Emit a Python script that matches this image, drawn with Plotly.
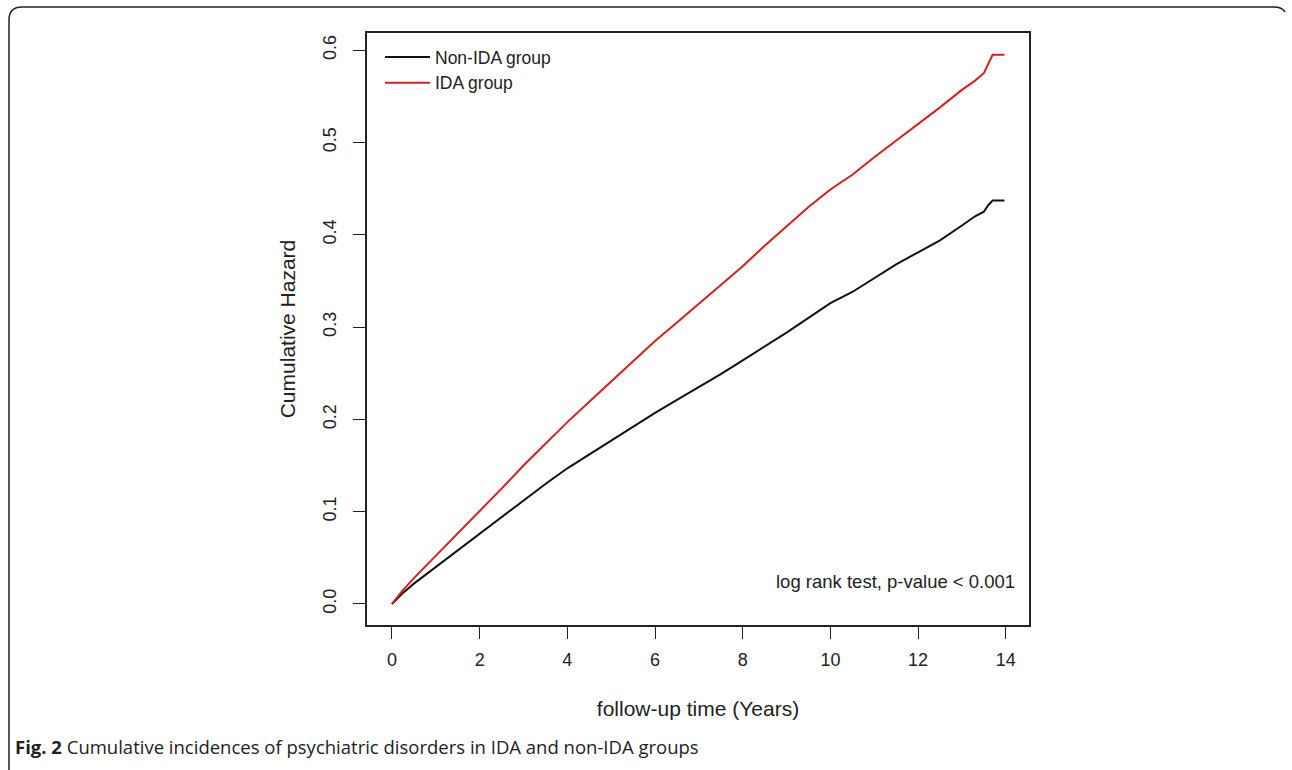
import plotly.graph_objects as go

# ---- data ----
time_years = [0, 0.25, 0.5, 1, 1.5, 2, 2.5, 3, 3.5, 4, 4.5, 5, 5.5, 6, 6.5, 7, 7.5, 8,
              8.5, 9, 9.5, 10, 10.5, 11, 11.5, 12, 12.5, 13, 13.3, 13.5, 13.6, 13.7, 13.97]
ida_hazard = [0, 0.015, 0.028, 0.052, 0.076, 0.101, 0.125, 0.150, 0.174, 0.197, 0.219,
              0.241, 0.262, 0.285, 0.305, 0.325, 0.345, 0.366, 0.388, 0.409, 0.430, 0.449,
              0.465, 0.484, 0.502, 0.519, 0.538, 0.557, 0.567, 0.575, 0.585, 0.595, 0.595]
non_ida_hazard = [0, 0.012, 0.022, 0.040, 0.058, 0.077, 0.095, 0.112, 0.130, 0.147, 0.162,
                  0.177, 0.192, 0.207, 0.221, 0.235, 0.249, 0.264, 0.279, 0.294, 0.310, 0.326,
                  0.338, 0.353, 0.368, 0.381, 0.394, 0.410, 0.420, 0.425, 0.432, 0.437, 0.437]
x_ticks = [0, 2, 4, 6, 8, 10, 12, 14]
y_ticks = [0.0, 0.1, 0.2, 0.3, 0.4, 0.5, 0.6]
y_tick_labels = ["0.0", "0.1", "0.2", "0.3", "0.4", "0.5", "0.6"]

W, H = 1292, 770
L, R, T, B = 367, 1029, 33, 625

def px(x):
    return (x - L) / (R - L)

def py(y):
    return (B - y) / (B - T)

FONT = "Liberation Sans, Arial, sans-serif"

fig = go.Figure()
fig.add_trace(go.Scatter(x=time_years, y=non_ida_hazard, mode="lines", name="Non-IDA group",
                         line=dict(color="#111111", width=2)))
fig.add_trace(go.Scatter(x=time_years, y=ida_hazard, mode="lines", name="IDA group",
                         line=dict(color="#dd1c1c", width=2)))

fig.update_layout(
    width=W, height=H,
    margin=dict(l=L, r=W - R, t=T, b=H - B, pad=0),
    paper_bgcolor="white", plot_bgcolor="white",
    font=dict(family=FONT, size=18, color="#222222"),
    showlegend=True,
    legend=dict(x=px(380), y=py(39), xanchor="left", yanchor="top",
                bgcolor="rgba(0,0,0,0)", font=dict(size=17.5, family=FONT),
                tracegroupgap=0, itemwidth=45),
    xaxis=dict(range=[-0.57, 14.53], tickvals=x_ticks, ticks="outside", ticklen=12,
               tickwidth=1.3, tickcolor="#222", showgrid=False, zeroline=False,
               showline=True, linecolor="#222", linewidth=1.5, mirror=True,
               tickfont=dict(size=18, family=FONT), ticklabelstandoff=6,
               title=dict(text="follow-up time (Years)", font=dict(size=21, family=FONT),
                          standoff=32)),
    yaxis=dict(range=[-0.0228, 0.6186], tickvals=y_ticks, ticktext=y_tick_labels,
               ticks="outside", ticklen=12, tickwidth=1.3, tickcolor="#222",
               tickangle=-90, showgrid=False, zeroline=False,
               showline=True, linecolor="#222", linewidth=1.5, mirror=True,
               tickfont=dict(size=18, family=FONT), ticklabelstandoff=10,
               title=dict(text="Cumulative Hazard", font=dict(size=21, family=FONT),
                          standoff=19)),
)

fig.add_annotation(x=px(1017), y=py(581), xref="paper", yref="paper", xanchor="right",
                   yanchor="middle", showarrow=False,
                   text="log rank test, p-value < 0.001",
                   font=dict(size=18.5, family=FONT, color="#222"))

fig.add_annotation(x=px(13), y=py(746), xref="paper", yref="paper", xanchor="left",
                   yanchor="middle", showarrow=False,
                   text="<b>Fig. 2</b> Cumulative incidences of psychiatric disorders in IDA and non-IDA groups",
                   font=dict(size=18.5, family="Open Sans, Noto Sans, sans-serif", color="#222"))

# outer rounded frame
path = (f"M {px(9)},{py(775)} L {px(9)},{py(20)} "
        f"Q {px(9)},{py(7)} {px(22)},{py(7)} L {px(1274)},{py(7)} "
        f"Q {px(1282)},{py(7)} {px(1285)},{py(12)}")
fig.add_shape(type="path", path=path, xref="paper", yref="paper",
              line=dict(color="#222", width=1.5))

fig.write_html("out.html", config={"displayModeBar": False},
               post_script="document.body.style.margin='0';document.body.style.overflow='hidden';")
